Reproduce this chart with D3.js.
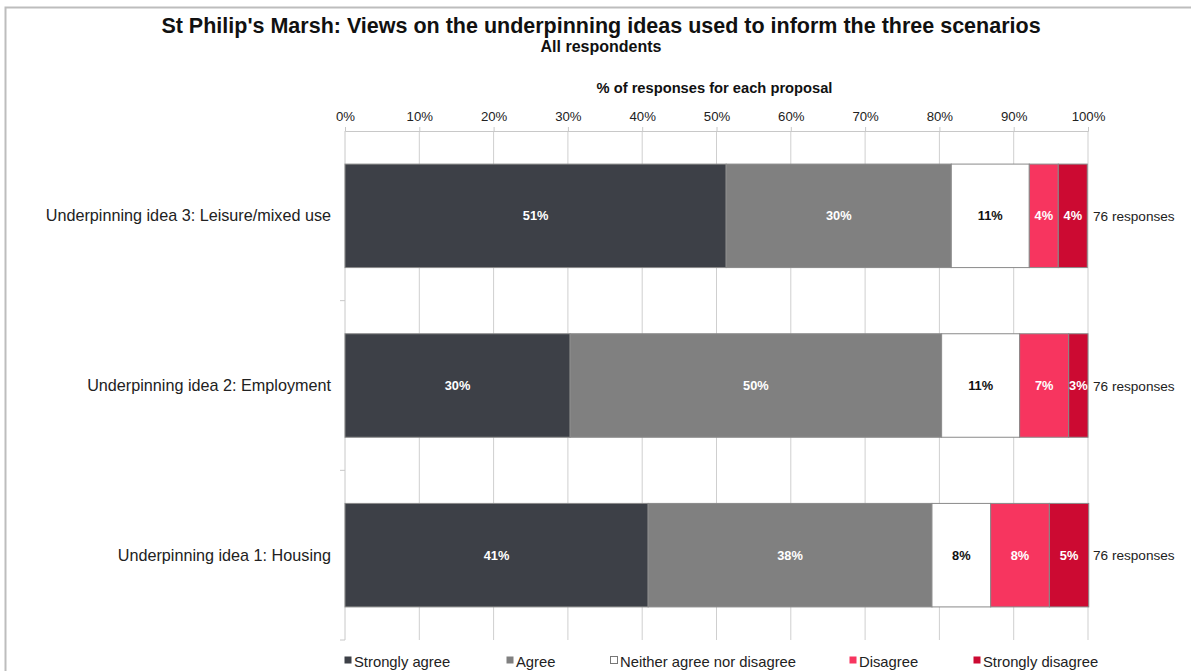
<!DOCTYPE html>
<html>
<head>
<meta charset="utf-8">
<script src="https://cdn.jsdelivr.net/npm/d3@7"></script>
<style>
  html, body { margin: 0; padding: 0; background: #fff; }
  svg { display: block; font-family: "Liberation Sans", Arial, sans-serif; }
</style>
</head>
<body>
<svg id="chart" width="1191" height="671"></svg>
<script>
// Ideas, listed top to bottom
const categories = [
  "Underpinning idea 3: Leisure/mixed use",
  "Underpinning idea 2: Employment",
  "Underpinning idea 1: Housing"
];
const seriesNames = ["Strongly agree", "Agree", "Neither agree nor disagree", "Disagree", "Strongly disagree"];
// Share of responses (%) per idea, one array per answer
const stronglyAgree    = [51.3, 30.3, 40.8];
const agree            = [30.3, 50.0, 38.2];
const neither          = [10.5, 10.5, 7.9];
const disagree         = [3.9, 6.6, 7.9];
const stronglyDisagree = [3.9, 2.6, 5.3];
const responses = [76, 76, 76];
const tickValues = [0, 10, 20, 30, 40, 50, 60, 70, 80, 90, 100];

const colors = ["#3d4047", "#808080", "#ffffff", "#f7355f", "#cc0a32"];
const labelColors = ["#ffffff", "#ffffff", "#111111", "#ffffff", "#ffffff"];
const seriesValues = [stronglyAgree, agree, neither, disagree, stronglyDisagree];

const svg = d3.select("#chart");
const plotLeft = 345, plotRight = 1088, plotTop = 131, plotBottom = 640;

// outer frame (top and left edges)
svg.append("path")
  .attr("d", "M5.5,671 V7.5 H1191")
  .attr("fill", "none").attr("stroke", "#bdbdbd").attr("stroke-width", 2);

svg.append("text").attr("x", 601).attr("y", 33)
  .attr("text-anchor", "middle").attr("font-weight", "bold").attr("font-size", 21.5)
  .attr("fill", "#111").text("St Philip's Marsh: Views on the underpinning ideas used to inform the three scenarios");
svg.append("text").attr("x", 601).attr("y", 52)
  .attr("text-anchor", "middle").attr("font-weight", "bold").attr("font-size", 16)
  .attr("fill", "#111").text("All respondents");

const x = d3.scaleLinear().domain([0, 100]).range([plotLeft, plotRight]);
const y = d3.scaleBand().domain(categories).range([plotTop, plotBottom]).paddingInner(0.39).paddingOuter(0.195);
const yBands = d3.scaleBand().domain(categories).range([plotTop, plotBottom]);

// axis title
svg.append("text").attr("x", (plotLeft + plotRight) / 2 - 2).attr("y", 93)
  .attr("text-anchor", "middle").attr("font-weight", "bold").attr("font-size", 14.7)
  .attr("fill", "#111").text("% of responses for each proposal");

// gridlines
svg.append("g").selectAll("line").data(tickValues.slice(1)).join("line")
  .attr("x1", d => x(d)).attr("x2", d => x(d))
  .attr("y1", plotTop).attr("y2", plotBottom)
  .attr("stroke", "#cfcfcf").attr("stroke-width", 1);

// top axis
const xAxis = svg.append("g").attr("transform", `translate(0,${plotTop})`)
  .call(d3.axisTop(x).tickValues(tickValues).tickFormat(d => d + "%").tickSize(4).tickPadding(6));
xAxis.select(".domain").attr("stroke", "#c8c8c8");
xAxis.selectAll(".tick line").attr("stroke", "#c8c8c8");
xAxis.selectAll(".tick text").attr("font-size", 13.2).attr("fill", "#222")
  .attr("font-family", "Liberation Sans, Arial, sans-serif");

// left axis with ticks at category boundaries
svg.append("line").attr("x1", plotLeft).attr("x2", plotLeft).attr("y1", plotTop).attr("y2", plotBottom)
  .attr("stroke", "#c8c8c8");
svg.append("g").selectAll("line").data(categories).join("line")
  .attr("x1", plotLeft - 5).attr("x2", plotLeft)
  .attr("y1", d => yBands(d) + yBands.bandwidth())
  .attr("y2", d => yBands(d) + yBands.bandwidth())
  .attr("stroke", "#c8c8c8");

// category labels
svg.append("g").selectAll("text").data(categories).join("text")
  .attr("x", 331).attr("y", d => y(d) + y.bandwidth() / 2 + 5.5)
  .attr("text-anchor", "end").attr("font-size", 16.2).attr("fill", "#222")
  .text(d => d);

// stacked segments
const rows = categories.map((c, i) => {
  let acc = 0;
  return seriesValues.map((s, k) => {
    const seg = { cat: c, k, v: s[i], x0: acc, x1: acc + s[i] };
    acc += s[i];
    return seg;
  });
}).flat();

svg.append("g").selectAll("rect").data(rows).join("rect")
  .attr("x", d => x(d.x0)).attr("width", d => x(d.x1) - x(d.x0))
  .attr("y", d => y(d.cat)).attr("height", y.bandwidth())
  .attr("fill", d => colors[d.k])
  .attr("stroke", "#8a8a8a").attr("stroke-width", 1);

svg.append("g").selectAll("text").data(rows).join("text")
  .attr("x", d => (x(d.x0) + x(d.x1)) / 2)
  .attr("y", d => y(d.cat) + y.bandwidth() / 2 + 4.5)
  .attr("text-anchor", "middle").attr("font-weight", "bold").attr("font-size", 12.8)
  .attr("fill", d => labelColors[d.k])
  .text(d => Math.round(d.v) + "%");

// response counts
svg.append("g").selectAll("text").data(categories).join("text")
  .attr("x", plotRight + 5).attr("y", (d) => y(d) + y.bandwidth() / 2 + 5)
  .attr("font-size", 13.6).attr("fill", "#222")
  .text((d, i) => responses[i] + " responses");

// legend
const legendX = [344, 506, 610, 849, 973];
const lg = svg.append("g").selectAll("g").data(seriesNames).join("g")
  .attr("transform", (d, i) => `translate(${legendX[i]},661)`);
lg.append("rect").attr("x", 0.5).attr("y", -4.5).attr("width", 7).attr("height", 7)
  .attr("fill", (d, i) => colors[i])
  .attr("stroke", (d, i) => i === 2 ? "#777" : "none");
lg.append("text").attr("x", 10).attr("y", 5.5)
  .attr("font-size", 14.8).attr("fill", "#222").text(d => d);
</script>
</body>
</html>
